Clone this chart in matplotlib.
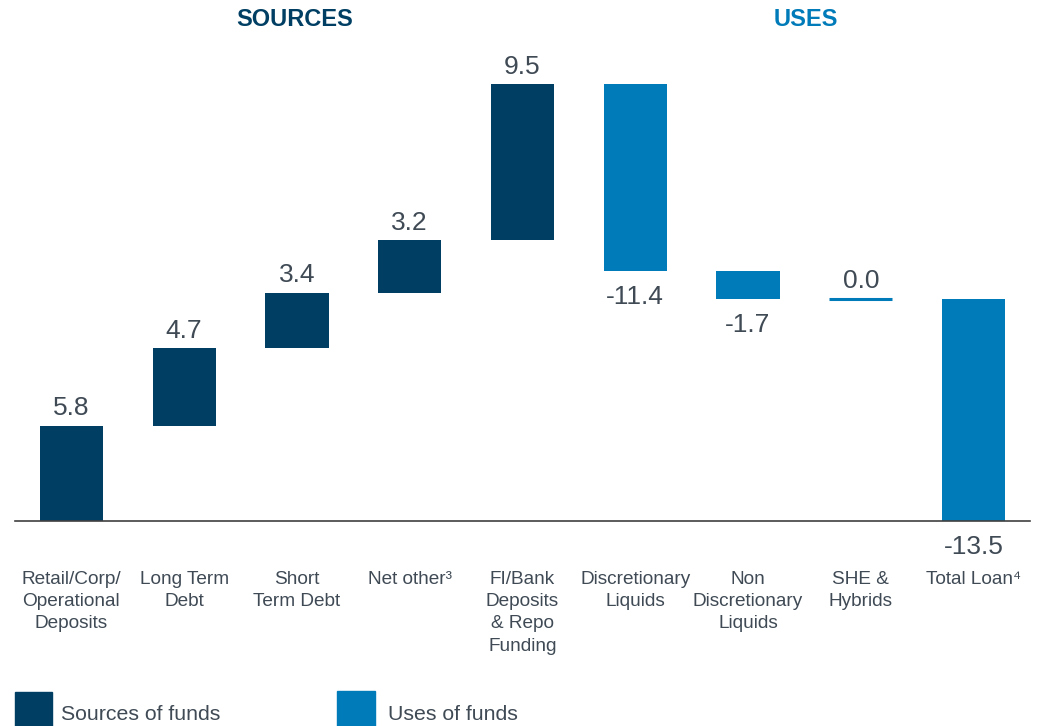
import matplotlib
matplotlib.use("Agg")
import matplotlib.pyplot as plt
from matplotlib.patches import Rectangle
import numpy as np

categories = ["Retail/Corp/\nOperational\nDeposits", "Long Term\nDebt", "Short\nTerm Debt",
              "Net other\u00b3", "FI/Bank\nDeposits\n& Repo\nFunding", "Discretionary\nLiquids",
              "Non\nDiscretionary\nLiquids", "SHE &\nHybrids", "Total Loan\u2074"]
values = [5.8, 4.7, 3.4, 3.2, 9.5, -11.4, -1.7, 0.0, -13.5]
kinds = ["source"] * 5 + ["use"] * 4

dark = "#003F63"
light = "#007BB9"
grey = "#3F4A55"

plt.rcParams["font.family"] = ["Liberation Sans", "DejaVu Sans"]

fig = plt.figure(figsize=(10.38, 7.26), dpi=100)
ax = fig.add_axes([15 / 1038, 1 - 521 / 726, 1015 / 1038, 461 / 726])

x = np.arange(len(values))
vals = np.array(values)
ends = np.cumsum(vals)
starts = ends - vals
colors = [dark if k == "source" else light for k in kinds]

for xi, s, v, e, c in zip(x, starts, vals, ends, colors):
  if v == 0:
    ax.hlines(s, xi - 0.28, xi + 0.28, color=c, lw=2.2)
    ax.text(xi, s + 0.35, "%.1f" % v, ha="center", va="bottom", fontsize=19, color=grey)
    continue
  ax.bar(xi, v, bottom=s, width=0.56, color=c)
  if v > 0:
    ax.text(xi, e + 0.33, "%.1f" % v, ha="center", va="bottom", fontsize=19, color=grey)
  else:
    ax.text(xi, e - 0.85, "%.1f" % v, ha="center", va="top", fontsize=19, color=grey)

ax.set_xlim(-0.5, 8.5)
ax.set_ylim(0, 461 / 16.43)
ax.set_xticks(x)
ax.set_xticklabels(categories, fontsize=13.7, color=grey, linespacing=1.4,
                   va="top", multialignment="center")
ax.tick_params(axis="x", length=0, pad=36)
ax.set_yticks([])
for sp in ["top", "right", "left"]:
  ax.spines[sp].set_visible(False)
ax.spines["bottom"].set_color("#404040")
ax.spines["bottom"].set_linewidth(1.2)

fig.text(295 / 1038, 1 - 20 / 726, "SOURCES", ha="center", va="center",
         fontsize=17, fontweight="bold", color=dark)
fig.text(806 / 1038, 1 - 20 / 726, "USES", ha="center", va="center",
         fontsize=17, fontweight="bold", color=light)

# legend
fig.patches.append(Rectangle((15 / 1038, 0), 37 / 1038, 34 / 726,
                             transform=fig.transFigure, color=dark))
fig.text(61 / 1038, 1 - 714 / 726, "Sources of funds", ha="left", va="center",
         fontsize=15.3, color=grey)
fig.patches.append(Rectangle((337 / 1038, 0), 38 / 1038, 35 / 726,
                             transform=fig.transFigure, color=light))
fig.text(388 / 1038, 1 - 714 / 726, "Uses of funds", ha="left", va="center",
         fontsize=15.3, color=grey)

fig.savefig("out.png", dpi=100)
